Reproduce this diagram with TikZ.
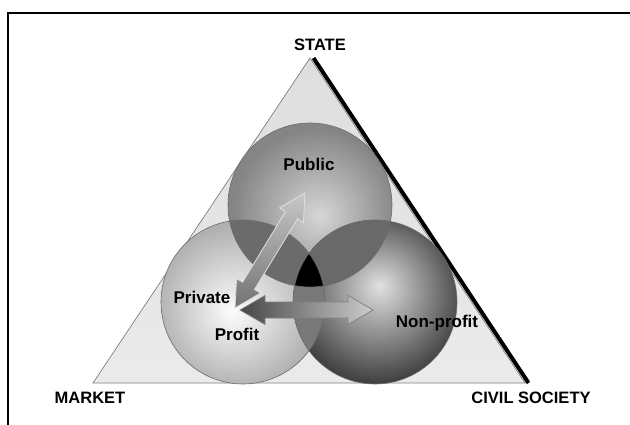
\documentclass[tikz,border=0pt]{standalone}
\usepackage{fontspec}
\setmainfont{Liberation Sans}
\usetikzlibrary{calc}

% sphere-like fills for the three circles
\definecolor{pubIn}{gray}{0.84}
\definecolor{pubOut}{gray}{0.52}
\definecolor{privIn}{gray}{0.99}
\definecolor{privOut}{gray}{0.69}
\definecolor{npIn}{gray}{0.88}
\definecolor{npOut}{gray}{0.25}
\definecolor{lensPP}{gray}{0.42}
\definecolor{lensPN}{gray}{0.41}
\definecolor{lensRN}{gray}{0.47}
\definecolor{triTop}{gray}{0.87}
\definecolor{triBot}{gray}{0.92}
\definecolor{rimgray}{gray}{0.42}

% the path's bounding box covers the central 50bp square of a shading
\pgfdeclareradialshading{pubball}{\pgfpoint{3bp}{-3.5bp}}%
  {color(0bp)=(pubIn); color(25bp)=(pubOut); color(50bp)=(pubOut)}
\pgfdeclareradialshading{privball}{\pgfpoint{-3.5bp}{-3bp}}%
  {color(0bp)=(privIn); color(25bp)=(privOut); color(50bp)=(privOut)}
\pgfdeclareradialshading{npball}{\pgfpoint{1.5bp}{5bp}}%
  {color(0bp)=(npIn); color(27bp)=(npOut); color(50bp)=(npOut)}

% double-headed block arrow between two named points:
% #1 style, #2 first tip, #3 second tip, #4 head length, #5 head half width, #6 shaft half width
\newcommand\dblarrow[6]{%
  \path[#1] (#2)
    -- ($(#2)!#4!(#3)!#5!90:(#3)$)
    -- ($(#2)!#4!(#3)!#6!90:(#3)$)
    -- ($(#3)!#4!(#2)!#6!-90:(#2)$)
    -- ($(#3)!#4!(#2)!#5!-90:(#2)$)
    -- (#3)
    -- ($(#3)!#4!(#2)!#5!90:(#2)$)
    -- ($(#3)!#4!(#2)!#6!90:(#2)$)
    -- ($(#2)!#4!(#3)!#6!-90:(#3)$)
    -- ($(#2)!#4!(#3)!#5!-90:(#3)$)
    -- cycle;}

\tikzset{
  lbl/.style={font=\fontsize{16.5}{19}\selectfont\bfseries, inner sep=0pt},
  inlbl/.style={font=\fontsize{17}{20}\selectfont\bfseries, inner sep=0pt},
  rim/.style={draw=rimgray, line width=0.6pt},
}

\begin{document}
\begin{tikzpicture}[x=1pt, y=-1pt]
  \useasboundingbox (0,0) rectangle (630,425);
  \fill[white] (0,0) rectangle (630,425);

  % frame
  \draw[line width=2.6pt] (8,425) -- (8,13) -- (630,13);

  % triangle
  \coordinate (apex) at (310,58);
  \coordinate (mkt) at (93,383);
  \coordinate (civ) at (525,383);
  \shade[top color=triTop, bottom color=triBot, draw=gray, line width=0.7pt]
    (apex) -- (mkt) -- (civ) -- cycle;
  \draw[line width=4pt] ($(apex)+(3.5,0)$) -- ($(civ)+(3.5,0)$);

  % circles
  \coordinate (pub) at (310,205);
  \coordinate (priv) at (243,302);
  \coordinate (np) at (375,302);
  \def\rr{82}
  \shade[shading=pubball] (pub) circle (\rr);
  \shade[shading=privball] (priv) circle (\rr);
  \shade[shading=npball] (np) circle (\rr);

  % overlaps
  \begin{scope}
    \clip (pub) circle (\rr);
    \fill[lensPP] (priv) circle (\rr);
    \fill[lensPN] (np) circle (\rr);
  \end{scope}
  \begin{scope}
    \clip (priv) circle (\rr);
    \fill[lensRN] (np) circle (\rr);
    \clip (np) circle (\rr);
    \fill[black] (pub) circle (\rr);
  \end{scope}

  % rims
  \draw[rim] (pub) circle (\rr);
  \draw[rim] (priv) circle (\rr);
  \draw[rim] (np) circle (\rr);

  % arrows
  \coordinate (hL) at (240,310);
  \coordinate (hR) at (373,310);
  \coordinate (dL) at (235,308);
  \coordinate (dU) at (305,193);
  \dblarrow{left color=black!72, right color=black!20, draw=black!50, line width=0.7pt}{hL}{hR}{25pt}{14.5pt}{8pt}
  \dblarrow{bottom color=black!55, top color=black!22, draw=black!12, line width=0.8pt}{dL}{dU}{26pt}{14pt}{7pt}

  % labels
  \node[lbl] (state) at (320,45) {STATE};
  \node[lbl] (market) at (90,398) {MARKET};
  \node[lbl] (civil) at (531,398) {CIVIL SOCIETY};
  \node[inlbl] (public) at (309,164) {Public};
  \node[inlbl] (private) at (202,297) {Private};
  \node[inlbl] (profit) at (237,334) {Profit};
  \node[inlbl] (nonprofit) at (437,323) {Non-profit};
\end{tikzpicture}
\end{document}
